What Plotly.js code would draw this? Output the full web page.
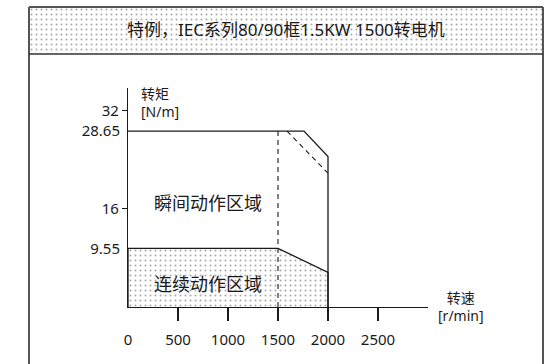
<!DOCTYPE html>
<html>
<head>
<meta charset="utf-8">
<script src="https://cdn.plot.ly/plotly-3.0.1.min.js"></script>
<style>
html,body{margin:0;padding:0;background:#fff;}
#chart{width:553px;height:364px;}
</style>
</head>
<body>
<div id="chart"></div>
<script>
// ---- data ----
const chartTitle = "特例，IEC系列80/90框1.5KW 1500转电机";
const xTickVals = [0, 500, 1000, 1500, 2000, 2500];
const xTickMarks = [500, 1000, 1500, 2000, 2500];
const yTickMarks = [16, 32];
const yTickExtra = [9.55, 28.65];
const yTickExtraText = ["9.55", "28.65"];

// peak (instantaneous) torque envelope
const peakSpeed = [0, 1760, 2000, 2000];
const peakTorque = [28.65, 28.65, 24.5, 0];
// dashed alternative envelope
const dashSpeed = [1590, 2000];
const dashTorque = [28.65, 21.8];
// rated speed line
const ratedSpeed = [1500, 1500];
const ratedTorque = [28.65, 0];
// continuous region
const contSpeed = [0, 0, 1500, 2000, 2000];
const contTorque = [0, 9.55, 9.55, 5.65, 0];

const peakLabel = "瞬间动作区域";
const contLabel = "连续动作区域";
const peakLabelPos = [800, 16.9];
const contLabelPos = [800, 3.75];

// header band (decoration) in its own unit axes
const bandX = [0, 1, 1, 0];
const bandY = [0, 0, 1, 1];

const FONT = "Noto Sans, Noto Sans CJK SC, sans-serif";
const INK = "#1a1a1a";

const speckle = {shape: ".", fgcolor: "#a8a8a8", bgcolor: "#ffffff", size: 5, solidity: 0.12};

const traces = [
  {
    x: bandX, y: bandY, xaxis: "x3", yaxis: "y3",
    type: "scatter", mode: "none", fill: "toself",
    fillcolor: "rgba(0,0,0,0)", fillpattern: speckle,
    hoverinfo: "skip", showlegend: false
  },
  {
    x: contSpeed, y: contTorque, type: "scatter", mode: "lines",
    fill: "toself", fillcolor: "rgba(0,0,0,0)", fillpattern: speckle,
    line: {color: INK, width: 1.3},
    hoverinfo: "skip", showlegend: false
  },
  {
    x: peakSpeed, y: peakTorque, type: "scatter", mode: "lines",
    line: {color: INK, width: 1.3}, hoverinfo: "skip", showlegend: false
  },
  {
    x: ratedSpeed, y: ratedTorque, type: "scatter", mode: "lines",
    line: {color: INK, width: 1.1, dash: "5px,4px"}, hoverinfo: "skip", showlegend: false
  },
  {
    x: dashSpeed, y: dashTorque, xaxis: "x2", yaxis: "y2", type: "scatter", mode: "lines",
    line: {color: INK, width: 1.1, dash: "5px,4px"}, hoverinfo: "skip", showlegend: false
  }
];

const L = 29, R = 10, T = 7, B = 0, W = 553, H = 364;
const pw = W - L - R, ph = H - T - B;
const px = v => (v - L) / pw;          // pixel x -> paper
const py = v => (H - B - v) / ph;      // pixel y -> paper

const xDom = [px(128), px(428)];
const yDom = [py(307), py(88)];
const xRange = [0, 3000];
const yRange = [0, 35.67];

const layout = {
  width: W, height: H,
  margin: {l: L, r: R, t: T, b: B, pad: 0},
  paper_bgcolor: "#ffffff", plot_bgcolor: "rgba(0,0,0,0)",
  font: {family: FONT, color: INK, size: 15},
  showlegend: false,
  xaxis: {
    domain: xDom, range: xRange, anchor: "y",
    tickmode: "array", tickvals: xTickVals, ticks: "outside", ticklen: 19,
    tickcolor: "rgba(0,0,0,0)", showline: true, linecolor: INK, linewidth: 1.2,
    showgrid: false, zeroline: false, tickfont: {size: 15}, fixedrange: true, automargin: false
  },
  xaxis2: {
    overlaying: "x", range: xRange, anchor: "y",
    tickmode: "array", tickvals: xTickMarks, ticks: "outside", ticklen: 13, tickwidth: 1.2,
    tickcolor: INK, showticklabels: false, showline: false, showgrid: false, zeroline: false,
    fixedrange: true, automargin: false
  },
  yaxis: {
    domain: yDom, range: yRange, anchor: "x",
    tickmode: "array", tickvals: yTickMarks, ticks: "outside", ticklen: 5, tickwidth: 1.2,
    tickcolor: INK, showline: true, linecolor: INK, linewidth: 1.2,
    showgrid: false, zeroline: false, tickfont: {size: 15}, fixedrange: true, automargin: false
  },
  yaxis2: {
    overlaying: "y", range: yRange, anchor: "x",
    tickmode: "array", tickvals: yTickExtra, ticktext: yTickExtraText,
    ticks: "outside", ticklen: 4, tickcolor: "rgba(0,0,0,0)",
    showline: false, showgrid: false, zeroline: false, tickfont: {size: 15},
    fixedrange: true, automargin: false
  },
  xaxis3: {domain: [0, 1], range: [0, 1], anchor: "y3", visible: false, fixedrange: true},
  yaxis3: {domain: [py(54), 1], range: [0, 1], anchor: "x3", visible: false, fixedrange: true},
  shapes: [
    {type: "line", xref: "paper", yref: "paper", x0: 0, x1: 0, y0: 0, y1: 1, line: {color: "#555", width: 2}},
    {type: "line", xref: "paper", yref: "paper", x0: 1, x1: 1, y0: 0, y1: 1, line: {color: "#555", width: 2}},
    {type: "line", xref: "paper", yref: "paper", x0: 0, x1: 1, y0: 1, y1: 1, line: {color: "#555", width: 2}},
    {type: "line", xref: "paper", yref: "paper", x0: 0, x1: 1, y0: py(54), y1: py(54), line: {color: "#333", width: 1.6}}
  ],
  annotations: [
    {text: chartTitle, xref: "paper", yref: "paper", x: 0.5, y: py(30), xanchor: "center", yanchor: "middle",
     showarrow: false, font: {size: 17, color: INK}},
    {text: "转矩<br>[N/m]", xref: "paper", yref: "paper", x: px(139), y: py(102), xanchor: "left", yanchor: "middle",
     align: "left", showarrow: false, font: {size: 14, color: INK}},
    {text: "转速<br>[r/min]", xref: "paper", yref: "paper", x: px(461), y: py(306), xanchor: "center", yanchor: "middle",
     align: "center", showarrow: false, font: {size: 14, color: INK}},
    {text: peakLabel, x: peakLabelPos[0], y: peakLabelPos[1], xref: "x", yref: "y", showarrow: false,
     font: {size: 18, color: INK}},
    {text: contLabel, x: contLabelPos[0], y: contLabelPos[1], xref: "x", yref: "y", showarrow: false,
     font: {size: 18, color: INK}}
  ]
};

Plotly.newPlot("chart", traces, layout, {staticPlot: true, displayModeBar: false});
</script>
</body>
</html>
